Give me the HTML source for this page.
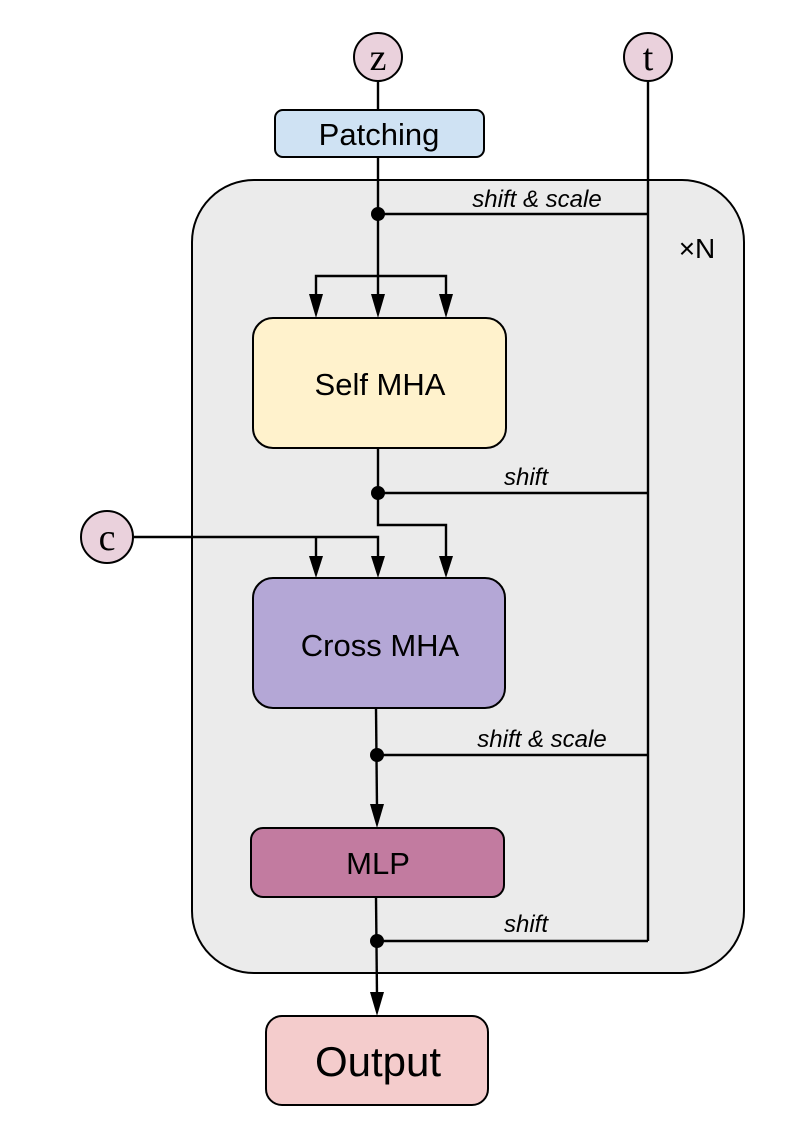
<!DOCTYPE html>
<html><head><style>html,body{margin:0;padding:0;background:#fff}</style></head>
<body>
<svg width="795" height="1132" viewBox="0 0 795 1132" xmlns="http://www.w3.org/2000/svg" style="display:block">
<rect x="192" y="180" width="552" height="793" rx="62" fill="#ebebeb" stroke="#000" stroke-width="2"/>
<g stroke="#000" stroke-width="2.4" fill="none">
<line x1="378" y1="82" x2="378" y2="110"/>
<line x1="378" y1="157" x2="378" y2="296"/>
<line x1="648" y1="82" x2="648" y2="941"/>
<line x1="378" y1="214" x2="648" y2="214"/>
<polyline points="316,296 316,276 446,276 446,296"/>
<polyline points="378,448 378,525 446,525 446,558"/>
<line x1="378" y1="493" x2="648" y2="493"/>
<polyline points="134,537 378,537 378,558"/>
<line x1="316" y1="537" x2="316" y2="558"/>
<line x1="376" y1="708" x2="377" y2="808"/>
<line x1="377" y1="755" x2="648" y2="755"/>
<line x1="376" y1="897" x2="377" y2="996"/>
<line x1="377" y1="941" x2="648" y2="941"/>
</g>
<g fill="#000">
<polygon points="309,294 323,294 316,318"/>
<polygon points="371,294 385,294 378,318"/>
<polygon points="439,294 453,294 446,318"/>
<polygon points="309,556 323,556 316,578"/>
<polygon points="371,556 385,556 378,578"/>
<polygon points="439,556 453,556 446,578"/>
<polygon points="370,804 384,804 377,828"/>
<polygon points="370,992 384,992 377,1016"/>
<circle cx="378" cy="214" r="7"/>
<circle cx="378" cy="493" r="7"/>
<circle cx="377" cy="755" r="7"/>
<circle cx="377" cy="941" r="7"/>
</g>
<g stroke="#000" stroke-width="2">
<circle cx="378" cy="57" r="24" fill="#ead1dc"/>
<circle cx="648" cy="57" r="24" fill="#ead1dc"/>
<circle cx="107" cy="537" r="26" fill="#ead1dc"/>
<rect x="275" y="110" width="209" height="47" rx="8" fill="#cfe2f3"/>
<rect x="253" y="318" width="253" height="130" rx="20" fill="#fff2cc"/>
<rect x="253" y="578" width="252" height="130" rx="20" fill="#b4a7d6"/>
<rect x="251" y="828" width="253" height="69" rx="12" fill="#c27ba0"/>
<rect x="266" y="1016" width="222" height="89" rx="16" fill="#f4cccc"/>
</g>
<g font-family="Liberation Serif, serif" font-size="38" text-anchor="middle">
<text x="378" y="70">z</text>
<text x="648" y="70">t</text>
<text x="107" y="550">c</text>
</g>
<g font-family="Liberation Sans, sans-serif" text-anchor="middle" fill="#000">
<text x="379" y="145" font-size="31">Patching</text>
<text x="380" y="395" font-size="31">Self MHA</text>
<text x="380" y="656" font-size="31">Cross MHA</text>
<text x="378" y="874" font-size="31">MLP</text>
<text x="378" y="1076" font-size="42">Output</text>
<text x="697" y="258" font-size="28">×N</text>
</g>
<g font-family="Liberation Sans, sans-serif" font-style="italic" font-size="24" text-anchor="middle">
<text x="537" y="207">shift &amp; scale</text>
<text x="526" y="485">shift</text>
<text x="542" y="747">shift &amp; scale</text>
<text x="526" y="932">shift</text>
</g>
</svg>
</body></html>
